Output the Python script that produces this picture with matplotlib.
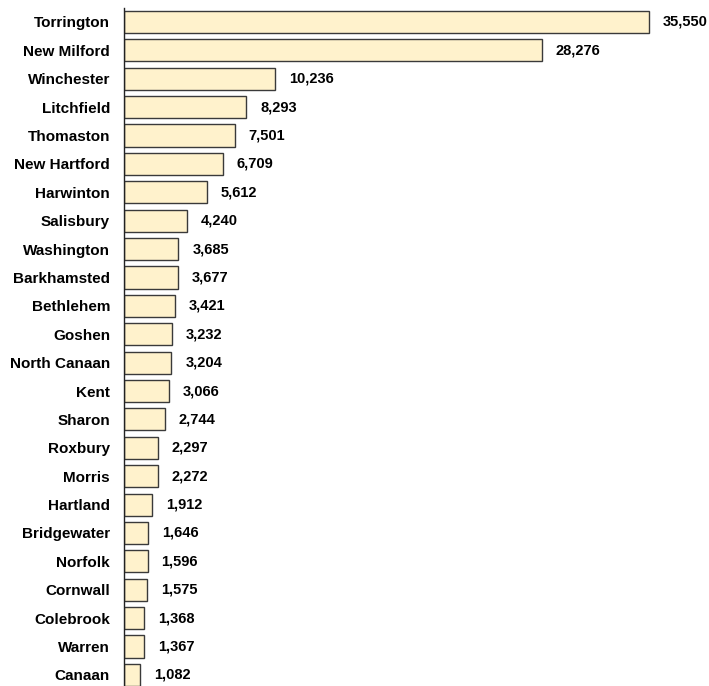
import matplotlib.pyplot as plt

towns = ['Torrington', 'New Milford', 'Winchester', 'Litchfield', 'Thomaston',
         'New Hartford', 'Harwinton', 'Salisbury', 'Washington', 'Barkhamsted',
         'Bethlehem', 'Goshen', 'North Canaan', 'Kent', 'Sharon', 'Roxbury',
         'Morris', 'Hartland', 'Bridgewater', 'Norfolk', 'Cornwall', 'Colebrook',
         'Warren', 'Canaan']
population = [35550, 28276, 10236, 8293, 7501, 6709, 5612, 4240, 3685, 3677,
              3421, 3232, 3204, 3066, 2744, 2297, 2272, 1912, 1646, 1596, 1575,
              1368, 1367, 1082]

plt.rcParams['font.family'] = ['Liberation Sans', 'DejaVu Sans']
plt.rcParams['font.weight'] = 'bold'

fig = plt.figure(figsize=(7.09, 6.86), dpi=100)
ax = fig.add_axes([124 / 709, 0, 585 / 709, 1 - 8 / 686])

pos = list(range(len(towns)))
ax.barh(pos, population, height=0.78, color='#FFF2CC', edgecolor='#3a3a3a', linewidth=1)

# value labels just past the bar ends
for p, v in zip(pos, population):
    ax.annotate(f"{v:,}", (v, p), xytext=(10, 0), textcoords='offset points',
                va='center', ha='left', fontsize=10.5, fontweight='bold')

ax.set_xlim(0, 585 / (525 / 35550))
ax.set_ylim(23.39, -0.49)
ax.set_yticks(pos)
ax.set_yticklabels(towns, fontsize=11, fontweight='bold')
ax.tick_params(axis='y', length=0, pad=10)
ax.set_xticks([])
for s in ['top', 'right', 'bottom']:
    ax.spines[s].set_visible(False)
ax.spines['left'].set_color('#222222')
ax.spines['left'].set_linewidth(1)

fig.savefig('out.png', dpi=100)
